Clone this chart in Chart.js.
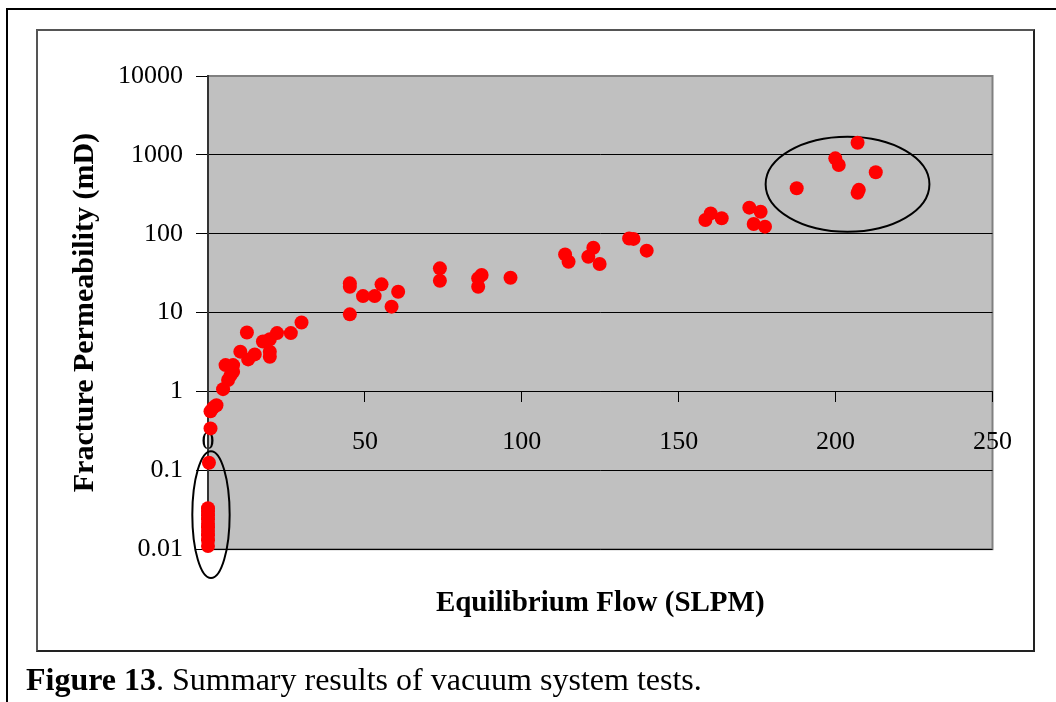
<!DOCTYPE html>
<html>
<head>
<meta charset="utf-8">
<title>Figure 13</title>
<script src="https://cdn.jsdelivr.net/npm/chart.js@4.4.0/dist/chart.umd.min.js"></script>
<style>
  html, body { margin: 0; padding: 0; background: #fff; }
  body { width: 1056px; height: 702px; position: relative; overflow: hidden;
         font-family: "Liberation Serif", "Times New Roman", serif; }
  #frame { position: absolute; left: 6px; top: 8px; right: 0; bottom: 0;
           border-left: 2px solid #000; border-top: 2px solid #000; }
  #box { position: absolute; left: 36px; top: 29px; width: 999px; height: 623px; box-sizing: border-box;
         border: 2px solid #222; border-top-color: #555; border-left-color: #555; }
  #chart { position: absolute; left: 0; top: 0; }
  #caption { position: absolute; left: 26px; top: 663px; font-size: 32px; line-height: 32px;
             color: #000; white-space: nowrap; }
</style>
</head>
<body>
<div id="frame"></div>
<div id="box"></div>
<canvas id="chart" width="1056" height="702"></canvas>
<div id="caption"><b>Figure 13</b>. Summary results of vacuum system tests.</div>
<script>
// Equilibrium flow (SLPM) and fracture permeability (mD)
var flow = [
    0, 0, 0, 0, 0, 0, 0, 0, 0, 0,
    0.3, 0.8, 0.8, 1.6, 2.7, 4.8, 6.4, 7.2, 8.0, 5.6, 8.0,
    10.3, 12.4, 12.8, 14.9, 17.5, 19.7, 19.7, 19.7, 22.0, 26.4, 29.8,
    45.2, 45.2, 45.2, 49.4, 53.1, 55.3, 60.6, 58.5, 73.9, 73.9,
    86.1, 87.2, 86.1, 96.4,
    113.8, 114.9, 122.8, 121.2, 124.8, 134.2, 135.6, 139.8,
    158.5, 160.2, 163.7, 172.5, 176.1, 173.9, 177.5,
    187.6, 199.9, 201.0, 207.0, 212.8, 207.0, 207.4
];
var perm = [
    0.033, 0.030, 0.027, 0.024, 0.021, 0.019, 0.017, 0.015, 0.013, 0.011,
    0.125, 0.34, 0.56, 0.62, 0.67, 1.07, 1.4, 1.6, 1.78, 2.16, 2.16,
    3.2, 5.6, 2.55, 2.95, 4.3, 4.6, 3.2, 2.75, 5.5, 5.5, 7.5,
    21.3, 23.5, 9.5, 16.2, 16.2, 22.8, 18.4, 11.9, 36.4, 25.3,
    27.2, 30, 21.3, 27.7,
    54.7, 44.2, 66.5, 51, 41.3, 87, 86, 61,
    149, 181, 157, 214, 190, 133, 123,
    377, 903, 743, 1427, 601, 330, 360
];

var xTicks = [0, 50, 100, 150, 200, 250];
var yTicks = [0.01, 0.1, 1, 10, 100, 1000, 10000];
var yTickLabels = ['0.01', '0.1', '1', '10', '100', '1000', '10000'];

// hand-drawn rings around two groups, in data units: [xMin, xMax, yMin, yMax]
var ringHigh = [177.7, 229.9, 106, 1700];
var ringLow = [-5.0, 6.9, 0.0043, 0.175];

var serif = '"Liberation Serif", "Times New Roman", serif';

var points = flow.map(function(x, i) {
    return { x: x, y: perm[i] };
});

// grey plot area like the spreadsheet default
var plotBackground = {
    id: 'plotBackground',
    beforeDraw: function(chart) {
        var a = chart.chartArea;
        var ctx = chart.ctx;
        ctx.save();
        ctx.fillStyle = '#c0c0c0';
        ctx.fillRect(a.left, a.top, a.right - a.left, a.bottom - a.top);
        ctx.strokeStyle = '#808080';
        ctx.lineWidth = 2;
        ctx.strokeRect(a.left, a.top, a.right - a.left, a.bottom - a.top);
        ctx.restore();
    }
};

var rings = {
    id: 'rings',
    beforeDatasetsDraw: function(chart) {
        var xs = chart.scales.x;
        var ys = chart.scales.y;
        var ctx = chart.ctx;
        [ringHigh, ringLow].forEach(function(b) {
            var x1 = xs.getPixelForValue(b[0]);
            var x2 = xs.getPixelForValue(b[1]);
            var y1 = ys.getPixelForValue(b[3]);
            var y2 = ys.getPixelForValue(b[2]);
            ctx.save();
            ctx.beginPath();
            ctx.ellipse((x1 + x2) / 2, (y1 + y2) / 2, (x2 - x1) / 2, (y2 - y1) / 2, 0, 0, 2 * Math.PI);
            ctx.lineWidth = 2;
            ctx.strokeStyle = '#000';
            ctx.stroke();
            ctx.restore();
        });
    }
};

new Chart(document.getElementById('chart'), {
    type: 'scatter',
    data: {
        datasets: [{
            data: points,
            backgroundColor: '#ff0000',
            borderWidth: 0,
            pointRadius: 7,
            pointStyle: 'circle',
            clip: false
        }]
    },
    options: {
        responsive: false,
        animation: false,
        events: [],
        layout: {
            padding: { top: 76, left: 0, right: 63.5, bottom: 81 }
        },
        plugins: {
            legend: { display: false },
            tooltip: { enabled: false },
            title: {
                display: true,
                position: 'bottom',
                fullSize: false,
                text: 'Equilibrium Flow (SLPM)',
                color: '#000',
                font: { family: serif, size: 29, weight: 'bold' },
                padding: { top: 37, bottom: 0 }
            }
        },
        scales: {
            x: {
                type: 'linear',
                position: { y: 1 },
                min: 0,
                max: 250,
                afterBuildTicks: function(scale) {
                    scale.ticks = xTicks.map(function(v) { return { value: v }; });
                },
                ticks: {
                    color: '#000',
                    font: { family: serif, size: 26 },
                    padding: 25,
                    maxRotation: 0,
                    callback: function(v) { return String(v); }
                },
                grid: {
                    drawOnChartArea: false,
                    drawTicks: true,
                    tickLength: 10,
                    tickColor: '#000'
                },
                border: { display: true, color: '#000', width: 1 }
            },
            y: {
                type: 'logarithmic',
                position: 'left',
                min: 0.01,
                max: 10000,
                afterBuildTicks: function(scale) {
                    scale.ticks = yTicks.map(function(v) { return { value: v }; });
                },
                afterFit: function(scale) {
                    scale.width = 208;
                },
                ticks: {
                    color: '#000',
                    font: { family: serif, size: 26 },
                    padding: 13,
                    autoSkip: false,
                    callback: function(v) {
                        var i = yTicks.indexOf(v);
                        return i >= 0 ? yTickLabels[i] : '';
                    }
                },
                grid: {
                    color: function(ctx) {
                        return ctx.tick && ctx.tick.value === 10000 ? 'rgba(0,0,0,0)' : '#000';
                    },
                    lineWidth: 1,
                    drawTicks: true,
                    tickLength: 12,
                    tickColor: '#000'
                },
                border: { display: true, color: '#333', width: 2 },
                title: {
                    display: true,
                    text: 'Fracture Permeability (mD)',
                    color: '#000',
                    font: { family: serif, size: 30, weight: 'bold' },
                    padding: { top: 67, bottom: 0 }
                }
            }
        }
    },
    plugins: [plotBackground, rings]
});
</script>
</body>
</html>
